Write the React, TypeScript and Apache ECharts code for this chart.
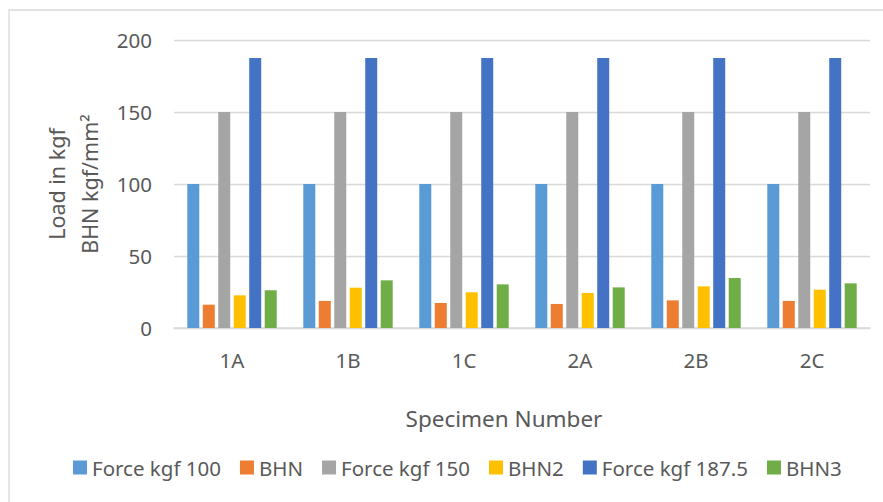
import React, { useEffect, useRef } from "react";
import * as echarts from "echarts";

const categories = ["1A", "1B", "1C", "2A", "2B", "2C"];
const force100 = [100, 100, 100, 100, 100, 100];
const bhn = [16.2, 18.8, 17.4, 16.7, 19.2, 18.8];
const force150 = [150, 150, 150, 150, 150, 150];
const bhn2 = [22.7, 28.0, 24.8, 24.3, 28.9, 26.6];
const force187 = [187.5, 187.5, 187.5, 187.5, 187.5, 187.5];
const bhn3 = [26.2, 33.1, 30.3, 28.2, 34.7, 31.0];

const seriesDefs = [
  { name: "Force kgf 100", data: force100, color: "#5B9BD5" },
  { name: "BHN", data: bhn, color: "#ED7D31" },
  { name: "Force kgf 150", data: force150, color: "#A5A5A5" },
  { name: "BHN2", data: bhn2, color: "#FFC000" },
  { name: "Force kgf 187.5", data: force187, color: "#4472C4" },
  { name: "BHN3", data: bhn3, color: "#70AD47" },
];

const FONT = "'Noto Sans', 'Open Sans', sans-serif";
const TEXT = "#595959";

export default function App() {
  const ref = useRef<HTMLDivElement>(null);

  useEffect(() => {
    if (!ref.current) return;
    const chart = echarts.init(ref.current, undefined, { renderer: "svg" });
    chart.setOption({
      animation: false,
      backgroundColor: "#ffffff",
      textStyle: { fontFamily: FONT },
      grid: { left: 174, right: 13, top: 40, bottom: 174, containLabel: false },
      legend: {
        left: 68,
        top: 452,
        itemWidth: 14,
        itemHeight: 14,
        itemGap: 19,
        icon: "rect",
        textStyle: { color: TEXT, fontSize: 20.5, fontFamily: FONT },
        data: seriesDefs.map((s) => s.name),
      },
      xAxis: {
        type: "category",
        data: categories,
        axisLine: { show: true, lineStyle: { color: "#D9D9D9", width: 1.5 } },
        axisTick: { show: false },
        axisLabel: { color: TEXT, fontSize: 20.5, margin: 21, fontFamily: FONT },
      },
      yAxis: {
        type: "value",
        min: 0,
        max: 200,
        interval: 50,
        name: "Load in kgf\nBHN kgf/mm²",
        nameLocation: "middle",
        nameRotate: 90,
        nameGap: 64,
        nameTextStyle: { color: TEXT, fontSize: 21.5, lineHeight: 33, fontFamily: FONT },
        axisLine: { show: false },
        axisTick: { show: false },
        axisLabel: { color: TEXT, fontSize: 20.5, margin: 22, fontFamily: FONT },
        splitLine: { lineStyle: { color: "#D9D9D9", width: 1.3 } },
      },
      series: seriesDefs.map((s) => ({
        name: s.name,
        type: "bar",
        data: s.data,
        barWidth: 12,
        barGap: "29%",
        itemStyle: { color: s.color },
      })),
      graphic: [
        {
          type: "rect",
          shape: { x: 9, y: 10, width: 900, height: 520 },
          style: { fill: "none", stroke: "#D9D9D9", lineWidth: 1.3 },
          silent: true,
        },
        {
          type: "text",
          x: 504,
          y: 418,
          style: {
            text: "Specimen Number",
            fill: TEXT,
            fontSize: 22.5,
            fontFamily: FONT,
            align: "center",
            verticalAlign: "middle",
          },
        },
      ],
    });
    return () => chart.dispose();
  }, []);

  return (
    <div
      ref={ref}
      style={{ position: "fixed", left: 0, top: 0, width: 883, height: 502 }}
    />
  );
}
